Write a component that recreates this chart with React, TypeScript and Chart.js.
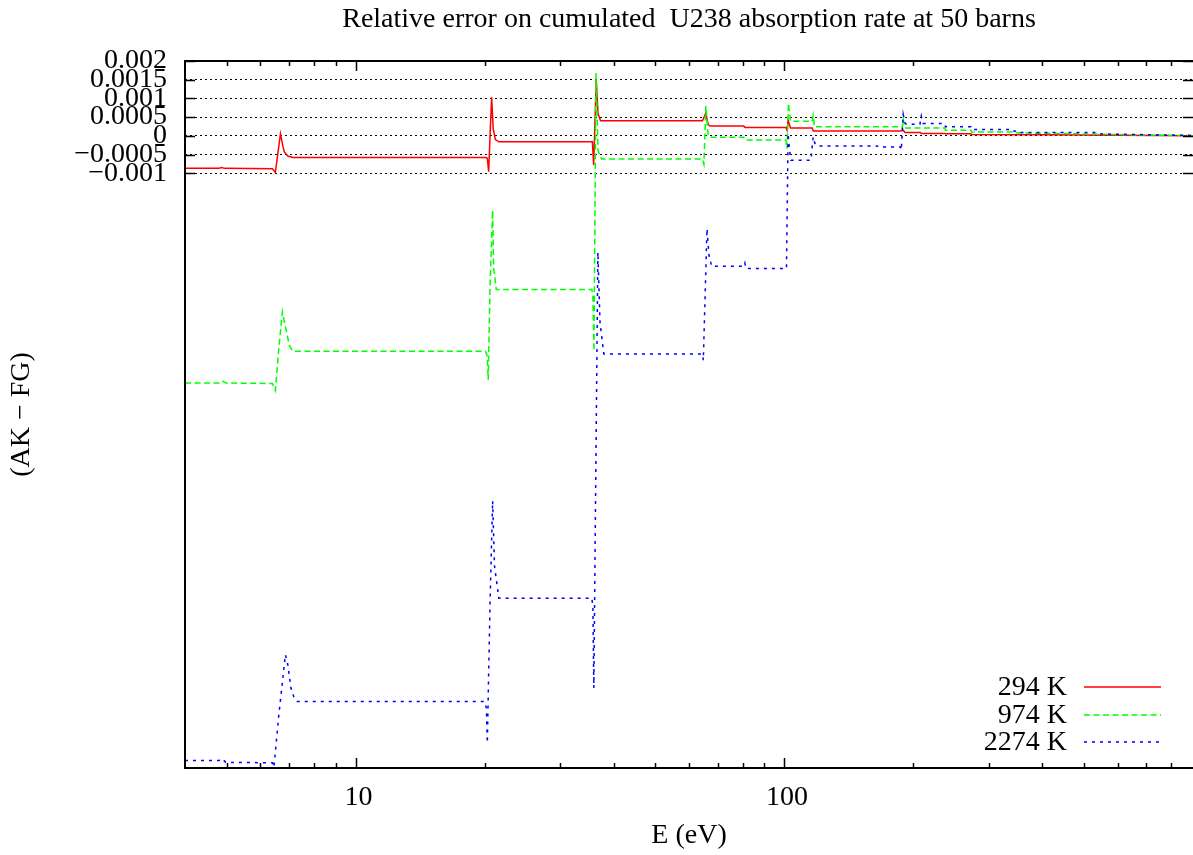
import { useEffect, useRef } from 'react';
import { Chart, registerables } from 'chart.js';

Chart.register(...registerables);

const FONT = 'Liberation Serif';

const titleText = 'Relative error on cumulated  U238 absorption rate at 50 barns';
const xTitle = 'E (eV)';
const yTitle = '(AK \u2212 FG)';
const seriesNames = ['294 K', '974 K', '2274 K'];
const seriesColors = ['#ff0000', '#00ff00', '#0000ff'];

const xMin = 4;
const xMax = 900;
const yMin = -0.0169;
const yMax = 0.002;
const xMajorTicks = [10, 100];
const xMajorLabels = ['10', '100'];
const xMinorTicks = [5, 6, 7, 8, 9, 20, 30, 40, 50, 60, 70, 80, 90, 200, 300, 400, 500, 600, 700, 800];
const yTickValues = [0.002, 0.0015, 0.001, 0.0005, 0, -0.0005, -0.001];
const yTickLabels = ['0.002', '0.0015', '0.001', '0.0005', '0', '\u22120.0005', '\u22120.001'];

// 294 K
const e294 = [4.0, 4.8, 4.86, 4.95, 6.4, 6.5, 6.6, 6.68, 6.76, 6.82, 6.95, 7.14, 20.1, 20.3, 20.45, 20.6, 20.78, 20.95, 21.2, 21.6,
  35.7, 35.95, 36.45, 36.8, 37.3, 64.5, 65.7, 66.5, 67.2, 80.5, 81.1, 101.0, 101.6, 102.2, 103.5, 116.3, 117.0,
  187.0, 189.7, 191.5, 208.0, 209.0, 237.0, 238.0, 273.0, 274.0, 400, 600, 900];
const v294 = [-0.00087, -0.00087, -0.00085, -0.00087, -0.00088, -0.00098, -0.0004, 0.00005, -0.00025, -0.00043, -0.00054, -0.00058, -0.00058, -0.0006, -0.00096, 0.0, 0.00103, 0.0002, -0.0001, -0.00016,
  -0.00016, -0.00078, 0.00151, 0.0006, 0.0004, 0.0004, 0.00061, 0.0003, 0.00026, 0.00026, 0.000225, 0.000225, 0.00015, 0.00042, 0.00021, 0.00021, 0.000126,
  0.000126, 0.00015, 0.00009, 0.00009, 0.000064, 0.000064, 0.000054, 0.000054, 0.000037, 0.00003, 0.000015, 0.000005];

// 974 K
const e974 = [4.0, 4.8, 4.88, 4.98, 6.4, 6.5, 6.62, 6.75, 6.89, 7.01, 7.14, 20.1, 20.3, 20.4, 20.6, 20.89, 21.0, 21.3,
  35.6, 35.8, 36.0, 36.4, 36.8, 37.5, 64.5, 65.0, 65.7, 66.5, 67.2, 80.5, 81.1, 101.0, 101.6, 102.4, 103.5,
  116.3, 116.9, 117.8, 187.0, 188.5, 189.7, 191.5, 237.0, 238.0, 273.0, 274.0, 340, 345, 500, 700, 900];
const v974 = [-0.00661, -0.00661, -0.00655, -0.00661, -0.00662, -0.00681, -0.0057, -0.00471, -0.0052, -0.00561, -0.00576, -0.00576, -0.0059, -0.00652, -0.004, -0.00199, -0.0035, -0.00411,
  -0.00411, -0.0043, -0.00575, 0.00168, -0.0004, -0.00062, -0.00062, -0.00076, 0.0008, 0.0, -0.00004, -0.00004, -0.000115, -0.000115, -0.00034, 0.00087, 0.00039,
  0.00039, 0.00055, 0.00024, 0.00024, 0.0002, 0.00044, 0.00021, 0.00021, 0.00015, 0.00015, 0.0001, 0.0001, 0.00008, 0.00005, 0.00002, 0.000005];

// 2274 K
const e2274 = [4.0, 4.8, 4.88, 4.98, 6.4, 6.45, 6.62, 6.86, 6.95, 7.07, 7.2, 7.3, 20.0, 20.2, 20.3, 20.6, 20.89, 21.1, 21.6,
  35.6, 35.8, 35.98, 36.4, 36.77, 37.2, 37.97, 64.5, 64.8, 66.09, 66.8, 67.8, 80.5, 81.0, 81.5, 101.3, 102.2, 103.0, 103.8,
  115.5, 116.9, 118.0, 119.4, 165.0, 165.8, 187.0, 187.7, 189.7, 191.5, 192.8, 207.5, 209.0, 211.0, 237.0, 238.0, 273.0, 274.0,
  335, 337, 346, 348, 530, 536, 900];
const v2274 = [-0.0167, -0.0167, -0.01665, -0.01675, -0.01676, -0.01688, -0.0155, -0.01387, -0.01414, -0.01477, -0.01504, -0.01512, -0.01512, -0.0153, -0.01623, -0.0125, -0.00976, -0.0115, -0.01236,
  -0.01236, -0.0126, -0.01476, -0.0085, -0.00311, -0.005, -0.00583, -0.00583, -0.006, -0.00248, -0.0032, -0.00349, -0.00349, -0.0034, -0.00355, -0.00355, 0.00006, -0.0004, -0.00065,
  -0.00065, -0.00003, -0.0002, -0.00027, -0.00027, -0.0003, -0.0003, -0.00038, 0.00057, 0.00035, 0.00031, 0.00031, 0.00053, 0.00033, 0.00033, 0.00024, 0.00024, 0.00017,
  0.00017, 0.00013, 0.00013, 0.00009, 0.00009, 0.00005, 0.00001];

const seriesE = [e294, e974, e2274];
const seriesV = [v294, v974, v2274];
const seriesDash = [[], [6, 3.5], [3, 5]];

const LABEL_SIZE = 28;
const TITLE_SIZE = 28;
const LINE_W = 1.5;

const decorPlugin = {
  id: 'gnuplotDecor',
  afterDraw(chart: any) {
    const ctx = chart.ctx;
    const area = chart.chartArea;
    const xs = chart.scales.x;
    const ys = chart.scales.y;
    ctx.save();
    ctx.strokeStyle = '#000';
    ctx.lineWidth = 1.5;
    // y ticks inward, both sides
    for (const v of yTickValues) {
      const py = Math.round(ys.getPixelForValue(v)) + 0.5;
      ctx.beginPath();
      ctx.moveTo(area.left, py);
      ctx.lineTo(area.left + 10, py);
      ctx.moveTo(area.right, py);
      ctx.lineTo(area.right - 10, py);
      ctx.stroke();
    }
    // x ticks inward, top and bottom
    const drawX = (v: number, len: number) => {
      const px = Math.round(xs.getPixelForValue(v)) + 0.5;
      ctx.beginPath();
      ctx.moveTo(px, area.bottom);
      ctx.lineTo(px, area.bottom - len);
      ctx.moveTo(px, area.top);
      ctx.lineTo(px, area.top + len);
      ctx.stroke();
    };
    for (const v of xMajorTicks) drawX(v, 10);
    for (const v of xMinorTicks) drawX(v, 5);
    // frame (right side lies on the canvas edge)
    ctx.lineWidth = 2;
    ctx.beginPath();
    ctx.moveTo(area.right + 2, area.top);
    ctx.lineTo(area.left, area.top);
    ctx.lineTo(area.left, area.bottom);
    ctx.lineTo(area.right + 2, area.bottom);
    ctx.stroke();

    ctx.fillStyle = '#000';
    // title
    ctx.font = `${TITLE_SIZE}px "${FONT}"`;
    ctx.textAlign = 'center';
    ctx.textBaseline = 'middle';
    ctx.fillText(titleText, (area.left + area.right) / 2, 20);
    // x title
    ctx.font = `${LABEL_SIZE}px "${FONT}"`;
    ctx.fillText(xTitle, (area.left + area.right) / 2, 836);
    // y title
    ctx.save();
    ctx.translate(22, (area.top + area.bottom) / 2);
    ctx.rotate(-Math.PI / 2);
    ctx.fillText(yTitle, 0, 0);
    ctx.restore();

    // legend
    const rowsY = [687, 715, 742];
    for (let i = 0; i < seriesNames.length; i++) {
      ctx.textAlign = 'right';
      ctx.fillStyle = '#000';
      ctx.fillText(seriesNames[i], 1067, rowsY[i] + 1);
      ctx.strokeStyle = seriesColors[i];
      ctx.lineWidth = LINE_W;
      ctx.setLineDash(seriesDash[i]);
      ctx.beginPath();
      ctx.moveTo(1084, rowsY[i]);
      ctx.lineTo(1161, rowsY[i]);
      ctx.stroke();
      ctx.setLineDash([]);
    }
    ctx.restore();
  },
};

export default function App() {
  const canvasRef = useRef<HTMLCanvasElement | null>(null);

  useEffect(() => {
    const canvas = canvasRef.current;
    if (!canvas) return;
    const datasets = seriesNames.map((name, i) => ({
      label: name,
      data: seriesE[i].map((e, j) => ({ x: e, y: seriesV[i][j] })),
      borderColor: seriesColors[i],
      backgroundColor: seriesColors[i],
      borderWidth: LINE_W,
      borderDash: seriesDash[i],
      pointRadius: 0,
      fill: false,
      tension: 0,
      order: 3 - i,
    }));
    const chart = new Chart(canvas, {
      type: 'line',
      data: { datasets },
      options: {
        animation: false,
        responsive: false,
        devicePixelRatio: 1,
        parsing: false,
        layout: { padding: { top: 61, right: 0, left: 0, bottom: 0 } },
        plugins: {
          legend: { display: false },
          title: { display: false },
          tooltip: { enabled: false },
        },
        scales: {
          x: {
            type: 'logarithmic',
            position: 'bottom',
            min: xMin,
            max: xMax,
            afterBuildTicks: (s: any) => {
              s.ticks = xMajorTicks.map((v) => ({ value: v }));
            },
            afterFit: (s: any) => {
              s.height = 87;
            },
            grid: { display: false, drawTicks: false },
            border: { display: false },
            ticks: {
              autoSkip: false,
              maxRotation: 0,
              padding: 13,
              labelOffset: 3,
              color: '#000',
              font: { family: FONT, size: LABEL_SIZE },
              callback: (v: any) => {
                const idx = xMajorTicks.indexOf(Number(v));
                return idx >= 0 ? xMajorLabels[idx] : '';
              },
            },
          },
          y: {
            type: 'linear',
            position: 'left',
            min: yMin,
            max: yMax,
            afterBuildTicks: (s: any) => {
              s.ticks = yTickValues.map((v) => ({ value: v }));
            },
            afterFit: (s: any) => {
              s.width = 185;
            },
            grid: { color: '#000', lineWidth: 1, drawTicks: false },
            border: { display: false, dash: [2, 3] },
            ticks: {
              autoSkip: false,
              padding: 18,
              color: '#000',
              font: { family: FONT, size: LABEL_SIZE },
              callback: (v: any) => {
                const idx = yTickValues.findIndex((t) => Math.abs(t - Number(v)) < 1e-9);
                return idx >= 0 ? yTickLabels[idx] : '';
              },
            },
          },
        },
      },
      plugins: [decorPlugin],
    } as any);
    return () => chart.destroy();
  }, []);

  return (
    <div style={{ position: 'fixed', left: 0, top: 0, width: 1193, height: 855, background: '#fff' }}>
      <canvas ref={canvasRef} width={1193} height={855} style={{ display: 'block' }} />
    </div>
  );
}
